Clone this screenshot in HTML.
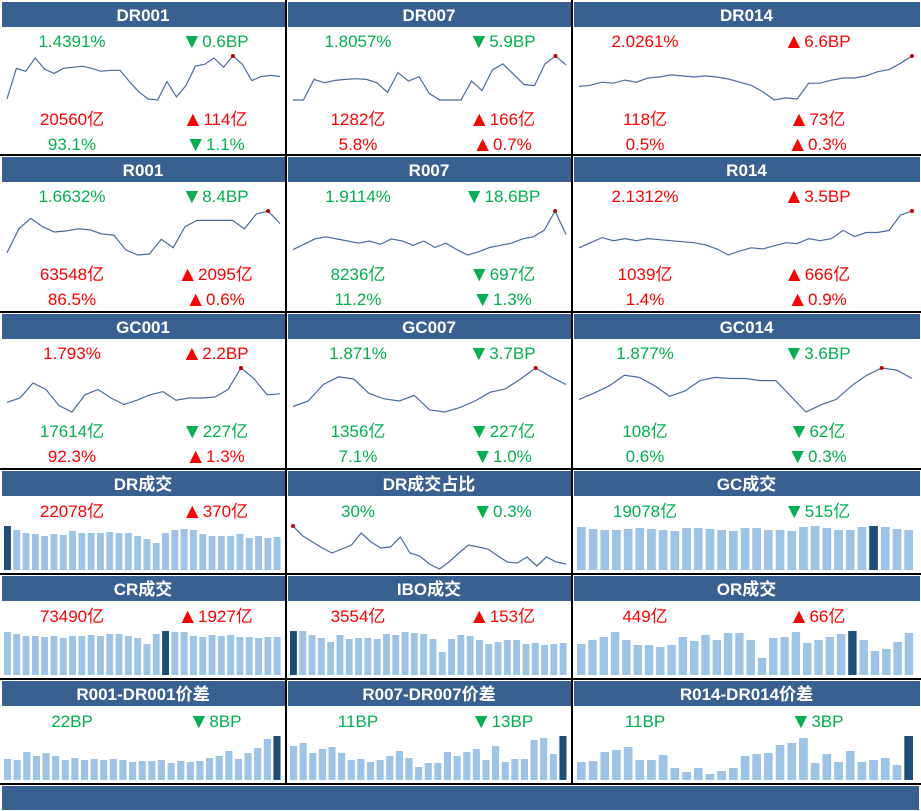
<!DOCTYPE html>
<html><head><meta charset="utf-8">
<style>
html,body{margin:0;padding:0;background:#fff;}
svg{display:block;font-family:"Liberation Sans","Noto Sans CJK SC",sans-serif;}
</style></head>
<body>
<svg id="dash" width="921" height="811" viewBox="0 0 921 811" xmlns="http://www.w3.org/2000/svg"></svg>
<script>
// ---------- data ----------
const dr001Line=[1,31,28,41,30,26,31,32,33,31,28,29,29,18,8,1,0,18,3,14,33,35,41,32,43,35,19,23,24,23];
const dr007Line=[0,0,60,50,57,60,62,60,50,22,80,55,68,18,0,0,0,55,28,88,105,75,45,42,105,128,102];
const dr014Line=[14,15,18,17,20,18,22,23,25,24,23,24,23,21,18,15,9,1,3,2,17,17,20,22,22,24,28,30,36,43];
const r001Line=[2,25,35,27,22,23,25,24,20,19,5,0,1,15,7,27,33,33,33,33,25,39,42,30];
const r007Line=[5,10,15,17,15,13,11,13,10,15,13,9,13,7,11,5,0,3,7,9,11,15,17,23,41,19];
const r014Line=[8,13,18,15,17,15,17,16,15,14,13,11,7,1,5,8,7,10,13,12,17,15,17,25,19,23,23,25,40,44];
const gc001Line=[9,13,27,21,6,0,16,21,13,7,11,16,19,11,13,13,14,21,41,31,16,17];
const gc007Line=[6,11,26,33,31,18,13,11,16,3,1,5,11,19,22,31,41,33,26];
const gc014Line=[13,19,26,36,34,26,16,21,31,34,33,33,31,31,16,1,8,13,26,36,43,41,33];
const drShareLine=[44,34,28,22,17,21,25,37,28,22,23,33,17,14,6,1,8,17,25,23,21,14,8,7,13,4,13,8,6];

const drVolBars=[44,40,37,36,34,36,35,39,37,37,37,38,37,37,34,31,27,37,40,41,40,36,34,34,34,36,32,34,32,33];
const gcVolBars=[43,41,40,40,41,42,41,40,39,42,42,41,40,39,42,42,40,40,39,43,44,42,40,40,43,44,43,41,40];
const crVolBars=[43,41,39,39,38,39,37,39,39,40,39,41,41,39,37,31,41,44,43,43,39,38,40,39,40,38,38,37,38,38];
const iboVolBars=[44,44,40,37,33,40,36,37,37,36,41,40,43,42,41,36,23,36,40,39,35,31,33,35,35,31,32,30,31,32];
const orVolBars=[31,35,38,43,35,30,30,28,30,38,34,40,35,42,42,35,17,37,38,43,32,35,38,41,44,35,24,26,33,42];
const sp001Bars=[21,20,28,24,27,24,20,22,20,21,20,21,20,18,19,19,20,17,19,18,19,22,24,29,21,27,32,41,44];
const sp007Bars=[34,37,27,31,33,27,20,21,18,20,24,29,22,13,17,17,28,24,28,31,20,34,18,21,21,40,42,26,44];
const sp014Bars=[18,19,28,30,33,20,20,25,12,8,12,6,9,12,24,26,27,35,37,42,17,26,18,29,18,20,22,15,44];

const G='#00b050',R='#ff0000';
const cols=[{x0:0,x1:286,lx:72,rx:215,cx0:7,cx1:280,bx0:4,bx1:283},
            {x0:286,x1:572,lx:358,rx:502,cx0:293,cx1:566,bx0:290,bx1:569},
            {x0:572,x1:921,lx:645,rx:817,cx0:579,cx1:912,bx0:577,bx1:916}];
const tops=[0,155,312,469,574,679,784];

const svg=document.getElementById('dash');
const NS='http://www.w3.org/2000/svg';
function mk(tag,attrs,parent){const e=document.createElementNS(NS,tag);for(const k in attrs)e.setAttribute(k,attrs[k]);(parent||svg).appendChild(e);return e;}
function txt(x,y,s,color,name,opts){
  const t=mk('text',{x:x,y:y,'text-anchor':'middle','font-size':(opts&&opts.size)||17,fill:color,'font-weight':(opts&&opts.bold)?'bold':'normal'});
  if(s[0]==='▲'||s[0]==='▼'){
    const a=mk('tspan',{'font-size':21,dy:1},t);a.textContent=s[0];
    const b=mk('tspan',{dy:-1},t);b.textContent=s.slice(1);
  } else t.textContent=s;
  
  
  return t;
}
function yScale(v,arr,yTop,yBot){const mn=Math.min(...arr),mx=Math.max(...arr);return yBot-(v-mn)/(mx-mn)*(yBot-yTop);}
function xScale(i,n,x0,x1){return x0+i*(x1-x0)/(n-1);}
function line(arr,c,top,dotIdx,name){
  const yT=top+56,yB=top+100;
  const pts=arr.map((v,i)=>xScale(i,arr.length,c.cx0,c.cx1).toFixed(1)+','+yScale(v,arr,yT,yB).toFixed(1)).join(' ');
  const p=mk('polyline',{points:pts,fill:'none',stroke:'#4a6b9b','stroke-width':1.2});
  
  
  const d=mk('circle',{cx:xScale(dotIdx,arr.length,c.cx0,c.cx1),cy:yScale(arr[dotIdx],arr,yT,yB),r:2,fill:'#c00000'});
  
  
}
function bars(arr,c,base,darkIdx,name){
  const mx=Math.max(...arr),slot=(c.bx1-c.bx0)/arr.length,w=slot*0.74;
  arr.forEach((v,i)=>{
    const h=v/mx*44;
    const b=mk('rect',{x:(c.bx0+i*slot).toFixed(1),y:(base-h).toFixed(1),width:w.toFixed(1),height:h.toFixed(1),fill:i===darkIdx?'#1f4e79':'#9dc3e6'});
    
    
  });
}

// background structure
tops.slice(1).forEach(t=>{const l=mk('rect',{x:0,y:t-1,width:921,height:2,fill:'#000'});
  
  });
[286,572].forEach(x=>{const l=mk('rect',{x:x-1,y:0,width:2,height:785,fill:'#000'});
  
  });
const bb=mk('rect',{x:2,y:786,width:917,height:24,fill:'#386192'});



function header(ci,ri,title){
  const c=cols[ci],t=tops[ri];
  const r=mk('rect',{x:c.x0+2,y:t+2,width:c.x1-c.x0-3,height:25,fill:'#386192'});
  
  
  txt((c.x0+c.x1)/2,t+21,title,'#fff','panel-title',{bold:true});
}

// line panels
const linePanels=[
 [0,0,'DR001',dr001Line,24,['1.4391%',G,'▼0.6BP',G],['20560亿',R,'▲114亿',R],['93.1%',G,'▼1.1%',G]],
 [1,0,'DR007',dr007Line,25,['1.8057%',G,'▼5.9BP',G],['1282亿',R,'▲166亿',R],['5.8%',R,'▲0.7%',R]],
 [2,0,'DR014',dr014Line,29,['2.0261%',R,'▲6.6BP',R],['118亿',R,'▲73亿',R],['0.5%',R,'▲0.3%',R]],
 [0,1,'R001',r001Line,22,['1.6632%',G,'▼8.4BP',G],['63548亿',R,'▲2095亿',R],['86.5%',R,'▲0.6%',R]],
 [1,1,'R007',r007Line,24,['1.9114%',G,'▼18.6BP',G],['8236亿',G,'▼697亿',G],['11.2%',G,'▼1.3%',G]],
 [2,1,'R014',r014Line,29,['2.1312%',R,'▲3.5BP',R],['1039亿',R,'▲666亿',R],['1.4%',R,'▲0.9%',R]],
 [0,2,'GC001',gc001Line,18,['1.793%',R,'▲2.2BP',R],['17614亿',G,'▼227亿',G],['92.3%',R,'▲1.3%',R]],
 [1,2,'GC007',gc007Line,16,['1.871%',G,'▼3.7BP',G],['1356亿',G,'▼227亿',G],['7.1%',G,'▼1.0%',G]],
 [2,2,'GC014',gc014Line,20,['1.877%',G,'▼3.6BP',G],['108亿',G,'▼62亿',G],['0.6%',G,'▼0.3%',G]]
];
linePanels.forEach(p=>{
  const [ci,ri,title,data,dot,l1,l2,l3]=p,c=cols[ci],t=tops[ri];
  header(ci,ri,title);
  [[l1,47,'rate'],[l2,125,'volume'],[l3,150,'share']].forEach(([l,dy,n])=>{
    txt(c.lx,t+dy,l[0],l[1],n+'-value');
    txt(c.rx,t+dy,l[2],l[3],n+'-change');
  });
  line(data,c,t,dot,title.toLowerCase()+'-sparkline');
});

// bar / misc panels
const barPanels=[
 [0,3,'DR成交',drVolBars,0,['22078亿',R,'▲370亿',R]],
 [2,3,'GC成交',gcVolBars,25,['19078亿',G,'▼515亿',G]],
 [0,4,'CR成交',crVolBars,17,['73490亿',R,'▲1927亿',R]],
 [1,4,'IBO成交',iboVolBars,0,['3554亿',R,'▲153亿',R]],
 [2,4,'OR成交',orVolBars,24,['449亿',R,'▲66亿',R]],
 [0,5,'R001-DR001价差',sp001Bars,28,['22BP',G,'▼8BP',G]],
 [1,5,'R007-DR007价差',sp007Bars,28,['11BP',G,'▼13BP',G]],
 [2,5,'R014-DR014价差',sp014Bars,28,['11BP',G,'▼3BP',G]]
];
barPanels.forEach(p=>{
  const [ci,ri,title,data,dark,l]=p,c=cols[ci],t=tops[ri];
  header(ci,ri,title);
  txt(c.lx,t+48,l[0],l[1],'volume-value');
  txt(c.rx,t+48,l[2],l[3],'volume-change');
  bars(data,c,t+101,dark,'panel');
});

// DR成交占比 line panel
header(1,3,'DR成交占比');
txt(cols[1].lx,469+48,'30%',G,'share-value');
txt(cols[1].rx,469+48,'▼0.3%',G,'share-change');
(function(){
  const c=cols[1],arr=drShareLine,yT=526,yB=569;
  const pts=arr.map((v,i)=>xScale(i,arr.length,c.cx0,c.cx1).toFixed(1)+','+yScale(v,arr,yT,yB).toFixed(1)).join(' ');
  const p=mk('polyline',{points:pts,fill:'none',stroke:'#4a6b9b','stroke-width':1.2});
  
  
  const d=mk('circle',{cx:xScale(0,arr.length,c.cx0,c.cx1),cy:yScale(arr[0],arr,yT,yB),r:2,fill:'#c00000'});
  
  
})();
</script>
</body></html>
